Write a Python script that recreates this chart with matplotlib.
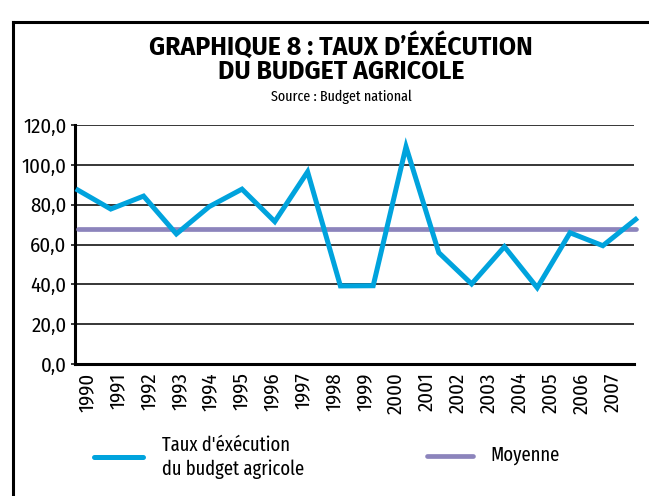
import numpy as np
import matplotlib
matplotlib.use("Agg")
import matplotlib.pyplot as plt
from matplotlib.lines import Line2D

# donnees
annees = [str(a) for a in range(1990, 2008)]
taux = [87.3, 77.8, 84.3, 65.3, 79.0, 87.8, 71.5, 96.5, 39.2, 39.3,
        109.1, 55.9, 40.2, 58.9, 38.3, 65.9, 59.4, 72.6]
moyenne = [67.8] * len(annees)
yticks = [0, 20, 40, 60, 80, 100, 120]

bleu = "#00A3DD"
violet = "#8C84BC"
large = ["Fira Sans", "DejaVu Sans"]
narrow = ["Fira Sans Condensed", "DejaVu Sans"]
xnarrow = ["Fira Sans Extra Condensed", "Fira Sans Condensed", "DejaVu Sans"]

W, H = 649, 496
fig = plt.figure(figsize=(6.49, 4.96), dpi=100)

def fx(px):
    return px / W

def fy(py):
    return 1 - py / H

# cadre du document
fig.add_artist(Line2D([fx(13), fx(13)], [0, fy(22)], color="black", lw=2.2, transform=fig.transFigure))
fig.add_artist(Line2D([fx(13), 1], [fy(22), fy(22)], color="black", lw=2.2, transform=fig.transFigure))

fig.text(fx(341), fy(79), "GRAPHIQUE 8 : TAUX D\u2019ÉXÉCUTION\nDU BUDGET AGRICOLE", ha="center",
         va="baseline", multialignment="center", linespacing=0.91,
         fontsize=18, fontweight="bold", family=large)
fig.text(fx(341), fy(101), "Source : Budget national", ha="center", va="baseline",
         fontsize=11, family=xnarrow)

ax = fig.add_axes([fx(75), fy(364), (634 - 75) / W, (364 - 125) / H])
x = np.arange(len(annees))

ax.set_ylim(0, 120)
ax.set_xlim(-0.09, 16.95)
ax.set_yticks(yticks)
ax.set_yticklabels([f"{v:.1f}".replace(".", ",") for v in yticks], family=narrow, fontsize=15)
ax.yaxis.grid(True, color="black", lw=1.1)
ax.set_axisbelow(True)

ax.plot(x, moyenne, color=violet, lw=3.4, solid_capstyle="round", clip_on=False, zorder=3)
ax.plot(x, taux, color=bleu, lw=3.6, solid_joinstyle="miter", clip_on=False, zorder=4)

ax.set_xticks(np.linspace(0.27, 16.3, len(annees)))
ax.set_xticklabels(annees, rotation=90, family=narrow, fontsize=15)
ax.tick_params(axis="x", length=0, pad=6)
ax.tick_params(axis="y", length=3, width=1.1, pad=3)

for s in ["top", "right"]:
    ax.spines[s].set_visible(False)
ax.spines["left"].set_linewidth(2.2)
ax.spines["bottom"].set_linewidth(2.2)

# legende
fig.add_artist(Line2D([fx(94), fx(143)], [fy(457)] * 2, color=bleu, lw=3.6,
                      solid_capstyle="round", transform=fig.transFigure))
fig.text(fx(162), fy(451), "Taux d'éxécution", ha="left", va="baseline", fontsize=14.5, family=xnarrow)
fig.text(fx(162), fy(475), "du budget agricole", ha="left", va="baseline", fontsize=14.5, family=xnarrow)
fig.add_artist(Line2D([fx(427), fx(473)], [fy(456)] * 2, color=violet, lw=3.4,
                      solid_capstyle="round", transform=fig.transFigure))
fig.text(fx(490), fy(461), "Moyenne", ha="left", va="baseline", fontsize=14.5, family=xnarrow)

fig.savefig("out.png", dpi=100)
